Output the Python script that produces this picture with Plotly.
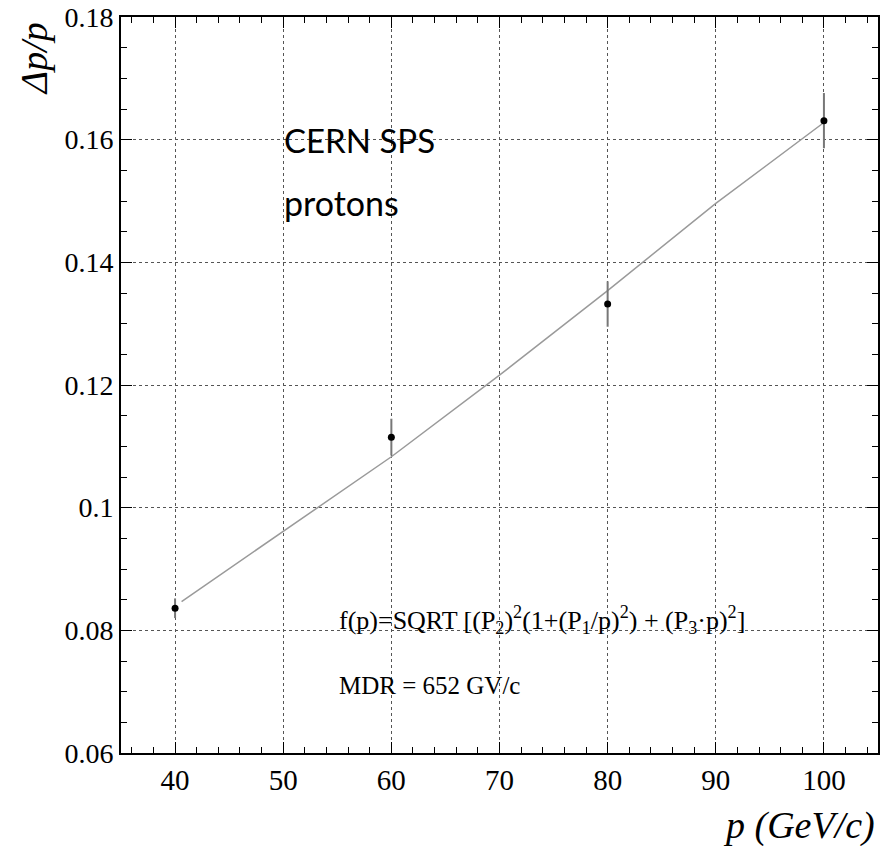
import plotly.graph_objects as go

# Measured points
p_data = [40, 60, 80, 100]
dp_data = [0.0836, 0.1115, 0.1332, 0.1631]
dp_err = [0.0016, 0.0030, 0.0037, 0.0045]

# Fit curve
p_fit = [40.6, 50, 60, 70, 80, 90, 100]
dp_fit = [0.0847, 0.0961, 0.1083, 0.1216, 0.1354, 0.1496, 0.1628]

x_ticks = [40, 50, 60, 70, 80, 90, 100]
y_ticks = [0.06, 0.08, 0.1, 0.12, 0.14, 0.16, 0.18]
y_ticklabels = ["0.06", "0.08", "0.1", "0.12", "0.14", "0.16", "0.18"]

serif = "Liberation Serif, Times New Roman, serif"

fig = go.Figure()
fig.add_trace(go.Scatter(x=p_fit, y=dp_fit, mode="lines",
                         line=dict(color="#9a9a9a", width=1.5), hoverinfo="skip"))
fig.add_trace(go.Scatter(x=p_data, y=dp_data, mode="markers",
                         marker=dict(color="black", size=7),
                         error_y=dict(type="data", array=dp_err, visible=True,
                                      color="#777777", thickness=2, width=0)))

axis_common = dict(showline=True, linecolor="black", linewidth=2, mirror="allticks",
                   ticks="inside", ticklen=11, tickcolor="black", tickwidth=1,
                   showgrid=True, gridcolor="#555555", gridwidth=1, griddash="3px,3px",
                   zeroline=False)

fig.update_xaxes(range=[35, 105], tickvals=x_ticks, ticktext=[str(v) for v in x_ticks],
                 tickfont=dict(family=serif, size=29, color="black"),
                 minor=dict(ticks="inside", ticklen=6, dtick=2, tick0=0, tickcolor="black",
                            showgrid=False),
                 **axis_common)
fig.update_yaxes(range=[0.06, 0.18], tickvals=y_ticks, ticktext=y_ticklabels,
                 tickfont=dict(family=serif, size=28, color="black"),
                 minor=dict(ticks="inside", ticklen=6, dtick=0.005, tick0=0, tickcolor="black",
                            showgrid=False),
                 **axis_common)

L, R, T, B = 121, 2, 16, 93
W, H = 882, 846
pw, ph = W - L - R, H - T - B

def px(x):
    return (x - L) / pw

def py(y):
    return (H - B - y) / ph

annotations = [
    dict(text="CERN SPS", x=px(282), y=py(139), xanchor="left", yanchor="middle",
         font=dict(family="Lato, Open Sans, sans-serif", size=33, color="black")),
    dict(text="protons", x=px(282), y=py(202), xanchor="left", yanchor="middle",
         font=dict(family="Lato, Open Sans, sans-serif", size=34, color="black")),
    dict(text="f(p)=SQRT [(P<sub>2</sub>)<sup>2</sup>(1+(P<sub>1</sub>/p)<sup>2</sup>) + (P<sub>3</sub>·p)<sup>2</sup>]",
         x=px(338), y=py(620), xanchor="left", yanchor="middle",
         font=dict(family=serif, size=26, color="black")),
    dict(text="MDR = 652 GV/c", x=px(338), y=py(685), xanchor="left", yanchor="middle",
         font=dict(family=serif, size=25, color="black")),
    dict(text="<i>Δp/p</i>", x=px(34), y=py(58), xanchor="center", yanchor="middle",
         textangle=-90, font=dict(family=serif, size=38, color="black")),
    dict(text="<i>p (GeV/c)</i>", x=px(801), y=py(826), xanchor="center", yanchor="middle",
         font=dict(family=serif, size=38, color="black")),
]
for a in annotations:
    a.update(xref="paper", yref="paper", showarrow=False)

fig.update_layout(width=W, height=H, margin=dict(l=L, r=R, t=T, b=B),
                  paper_bgcolor="white", plot_bgcolor="white", showlegend=False,
                  annotations=annotations)

fig.write_html("out.html")
